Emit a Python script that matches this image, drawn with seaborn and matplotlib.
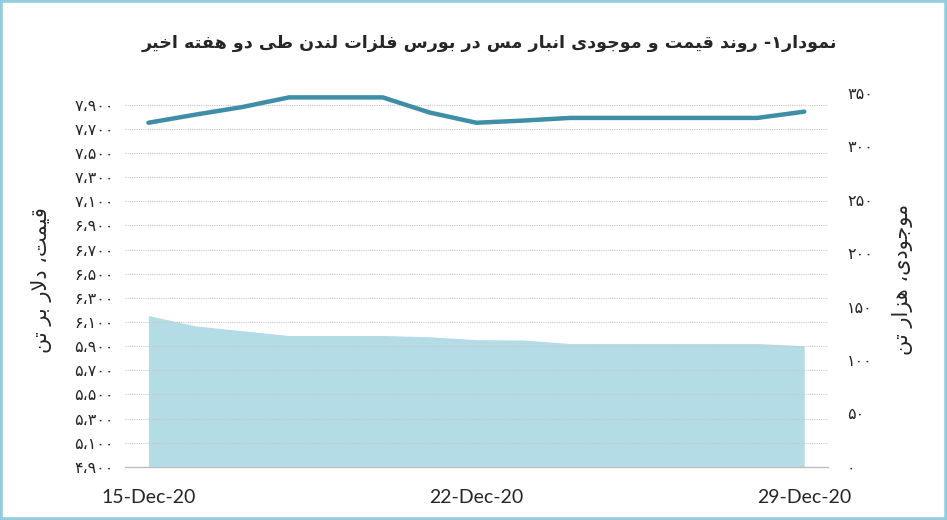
import pandas as pd
import numpy as np
import matplotlib
matplotlib.use("Agg")
import matplotlib.pyplot as plt
from matplotlib.ticker import FuncFormatter, MultipleLocator, FixedLocator
from matplotlib.patches import Rectangle
import seaborn as sns

# data (LME copper, Dec 2020)
dates = ["2020-12-15", "2020-12-16", "2020-12-17", "2020-12-18", "2020-12-19",
         "2020-12-20", "2020-12-21", "2020-12-22", "2020-12-23", "2020-12-24",
         "2020-12-25", "2020-12-26", "2020-12-27", "2020-12-28", "2020-12-29"]
price = [7750, 7817, 7880, 7960, 7960, 7960, 7835, 7750, 7768, 7790,
         7790, 7790, 7790, 7790, 7842]
stock = [141.6, 131.9, 127.4, 122.9, 122.9, 122.9, 121.7, 119.0, 118.7, 115.4,
         115.4, 115.4, 115.4, 115.4, 113.3]
xtick_labels = ["15-Dec-20", "22-Dec-20", "29-Dec-20"]

title = "نمودار۱- روند قیمت و موجودی انبار مس در بورس فلزات لندن طی دو هفته اخیر"
ylabel_left = "قیمت، دلار بر تن"
ylabel_right = "موجودی، هزار تن"

# --- minimal Persian shaping (matplotlib has no bidi / joining) ---
FORMS = {
    'ا': ('\uFE8D', '\uFE8E', None, None),
    'ب': ('\uFE8F', '\uFE90', '\uFE91', '\uFE92'),
    'ت': ('\uFE95', '\uFE96', '\uFE97', '\uFE98'),
    'ج': ('\uFE9D', '\uFE9E', '\uFE9F', '\uFEA0'),
    'خ': ('\uFEA5', '\uFEA6', '\uFEA7', '\uFEA8'),
    'د': ('\uFEA9', '\uFEAA', None, None),
    'ر': ('\uFEAD', '\uFEAE', None, None),
    'ز': ('\uFEAF', '\uFEB0', None, None),
    'س': ('\uFEB1', '\uFEB2', '\uFEB3', '\uFEB4'),
    'ط': ('\uFEC1', '\uFEC2', '\uFEC3', '\uFEC4'),
    'ف': ('\uFED1', '\uFED2', '\uFED3', '\uFED4'),
    'ق': ('\uFED5', '\uFED6', '\uFED7', '\uFED8'),
    'ل': ('\uFEDD', '\uFEDE', '\uFEDF', '\uFEE0'),
    'م': ('\uFEE1', '\uFEE2', '\uFEE3', '\uFEE4'),
    'ن': ('\uFEE5', '\uFEE6', '\uFEE7', '\uFEE8'),
    'ه': ('\uFEE9', '\uFEEA', '\uFEEB', '\uFEEC'),
    'و': ('\uFEED', '\uFEEE', None, None),
    'ی': ('\uFEEF', '\uFEF0', '\uFEF3', '\uFEF4'),
    'LA': ('\uFEFB', '\uFEFC', None, None),
}


def fa(text):
    tokens = []
    i = 0
    while i < len(text):
        if text[i] == 'ل' and i + 1 < len(text) and text[i + 1] == 'ا':
            tokens.append('LA')
            i += 2
        else:
            tokens.append(text[i])
            i += 1
    out = []
    for k, t in enumerate(tokens):
        if t not in FORMS:
            out.append(t)
            continue
        prev = tokens[k - 1] if k > 0 else None
        nxt = tokens[k + 1] if k + 1 < len(tokens) else None
        cp = prev in FORMS and FORMS[prev][2] is not None
        cn = FORMS[t][2] is not None and nxt in FORMS
        f = FORMS[t]
        if cp and cn:
            out.append(f[3])
        elif cp:
            out.append(f[1])
        elif cn:
            out.append(f[2])
        else:
            out.append(f[0])
    return ''.join(reversed(out))


FA_DIGITS = str.maketrans("0123456789,", "۰۱۲۳۴۵۶۷۸۹،")


def fa_num(v, pos=None):
    return f"{int(round(v)):,}".translate(FA_DIGITS)


df = pd.DataFrame({"date": pd.to_datetime(dates), "price": price, "stock": stock})

sns.set_style("white")
plt.rcParams['font.family'] = ['DejaVu Sans']

fig = plt.figure(figsize=(9.47, 5.2), dpi=100)
ax_s = fig.add_axes([0.132, 0.102, 0.742, 0.720])   # inventory (right scale), behind
ax_p = fig.add_axes(ax_s.get_position(), sharex=ax_s)  # price on top
ax_p.patch.set_visible(False)

# area: inventory
ax_s.fill_between(df["date"], df["stock"], 0, color="#b4dce6", linewidth=0)
ax_s.set_ylim(0, 350)
ax_s.yaxis.set_major_locator(MultipleLocator(50))
ax_s.yaxis.tick_right()
ax_s.yaxis.set_label_position("right")
ax_s.yaxis.set_major_formatter(FuncFormatter(fa_num))

# line: price
sns.lineplot(data=df, x="date", y="price", ax=ax_p, color="#3e8ea7", linewidth=3.2)
ax_p.set_ylim(4900, 8000)
ax_p.yaxis.set_major_locator(FixedLocator(np.arange(4900, 7901, 200)))
ax_p.yaxis.set_major_formatter(FuncFormatter(fa_num))
ax_p.grid(axis="y", color="#c8c8c8", linestyle=(0, (1, 1)), linewidth=0.8)
ax_s.set_zorder(0)
ax_p.set_zorder(1)

x0 = pd.Timestamp("2020-12-15") - pd.Timedelta(hours=12)
x1 = pd.Timestamp("2020-12-29") + pd.Timedelta(hours=12)
ax_p.set_xlim(x0, x1)
tick_dates = pd.to_datetime(["2020-12-15", "2020-12-22", "2020-12-29"])
ax_p.set_xticks(tick_dates)
ax_p.set_xticklabels(xtick_labels, fontfamily="Lato", fontsize=14)
ax_s.tick_params(axis="x", labelbottom=False)

for a in (ax_s, ax_p):
    for sp in a.spines.values():
        sp.set_visible(False)
    a.tick_params(length=0)
ax_p.spines["bottom"].set_visible(True)
ax_p.spines["bottom"].set_color("#bfbfbf")
ax_p.spines["bottom"].set_linewidth(1)

ax_p.tick_params(axis="y", labelsize=11.5, pad=8)
ax_s.tick_params(axis="y", labelsize=11.5, pad=14)
ax_p.tick_params(axis="x", pad=16)

ax_p.set_xlabel("")
ax_p.set_ylabel(fa(ylabel_left), fontsize=15, rotation=90, labelpad=16)
ax_s.set_ylabel(fa(ylabel_right), fontsize=15, rotation=90, labelpad=14)

fig.text(0.517, 0.918, fa(title), ha="center", va="center",
         fontsize=12.6, fontweight="bold",
         family=["DejaVu Sans Condensed", "DejaVu Sans"])

fig.patches.append(Rectangle((0, 0), 1, 1, transform=fig.transFigure, fill=False,
                             edgecolor="#92cddc", linewidth=4))

fig.savefig("out.png", dpi=100)
